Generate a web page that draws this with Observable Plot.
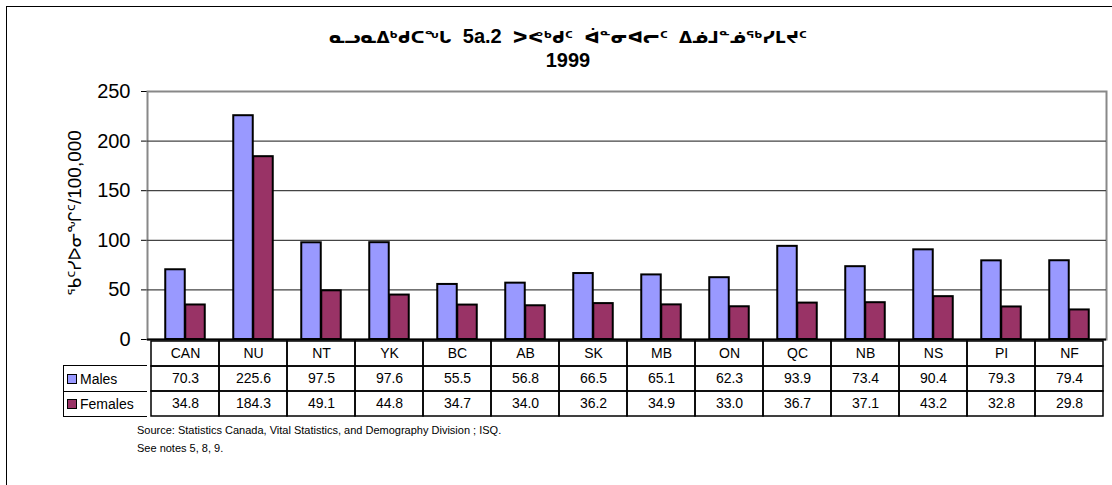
<!DOCTYPE html>
<html>
<head>
<meta charset="utf-8">
<script src="https://cdn.jsdelivr.net/npm/d3@7"></script>
<script src="https://cdn.jsdelivr.net/npm/@observablehq/plot@0.6"></script>
<style>
  html, body { margin: 0; padding: 0; background: #fff; }
  body { width: 1112px; height: 485px; overflow: hidden; font-family: "Liberation Sans", Arial, "DejaVu Sans", sans-serif; }
  #wrap { position: relative; width: 1112px; height: 485px; }
  #wrap > * { position: absolute; }
  #border { left: 6px; top: 6px; width: 1200px; height: 600px; border-left: 1.5px solid #000; border-top: 1.5px solid #000; }
  #title { left: 568px; top: 25px; transform: translateX(-50%); text-align: center; font-weight: bold; font-size: 20px; line-height: 23px; white-space: pre; color: #000; }
  #title .syl { font-family: "DejaVu Sans", sans-serif; font-weight: bold; font-size: 17px; }
  #ylabel { left: 75px; top: 213px; transform: translate(-50%, -50%) rotate(-90deg); font-size: 19px; white-space: nowrap; color: #000; }
  #ylabel .syl { font-family: "DejaVu Sans", sans-serif; font-weight: normal; font-size: 17px; }
  #legend { left: 63px; top: 365px; width: 84px; height: 52px; border: 1.5px solid #000; border-right: none; box-sizing: border-box; font-size: 14px; }
  #legend .row { height: 25px; display: flex; align-items: center; padding-left: 3px; box-sizing: border-box; }
  #legend .row + .row { border-top: 1.5px solid #000; }
  #legend .sw { width: 8px; height: 8px; border: 1.5px solid #000; margin-right: 3px; }
  #source { left: 137px; top: 421px; font-size: 11px; line-height: 18px; color: #000; white-space: nowrap; }
</style>
</head>
<body>
<div id="wrap">
  <div id="border"></div>
  <div id="title"></div>
  <div id="chart" style="left:0;top:0"></div>
  <div id="table" style="left:0;top:340px"></div>
  <div id="ylabel"></div>
  <div id="legend"></div>
  <div id="source"></div>
</div>
<script>
const titleLines = ["ᓇᓗᓇᐃᒃᑯᑕᖓ  5a.2  ᐳᕙᒃᑯᑦ  ᐋᓐᓂᐊᓕᑦ  ᐃᓅᒧᓐᓅᖅᓯᒪᔪᑦ", "1999"];
const yLabel = "ᖃᑦᓯᐅᓂᖏᑦ/100,000";
const categories = ["CAN","NU","NT","YK","BC","AB","SK","MB","ON","QC","NB","NS","PI","NF"];
const seriesNames = ["Males","Females"];
const males = [70.3,225.6,97.5,97.6,55.5,56.8,66.5,65.1,62.3,93.9,73.4,90.4,79.3,79.4];
const females = [34.8,184.3,49.1,44.8,34.7,34.0,36.2,34.9,33.0,36.7,37.1,43.2,32.8,29.8];
const seriesColors = ["#9999FF","#993366"];
const yTicks = [0,50,100,150,200,250];
const gridTicks = [50,100,150,200];
const sourceLines = ["Source: Statistics Canada, Vital Statistics, and Demography Division ; ISQ.", "See notes 5, 8, 9."];

const FONT = '"Liberation Sans", Arial, sans-serif';

// split text into syllabic / non-syllabic runs so they can be styled separately
function fillRuns(el, text) {
  const parts = text.split(/([\u1400-\u167F]+)/);
  parts.forEach(p => {
    if (!p) return;
    const s = document.createElement("span");
    if (/[\u1400-\u167F]/.test(p)) s.className = "syl";
    s.textContent = p;
    el.appendChild(s);
  });
}
const titleEl = document.getElementById("title");
titleLines.forEach(t => { const d = document.createElement("div"); fillRuns(d, t); titleEl.appendChild(d); });
fillRuns(document.getElementById("ylabel"), yLabel);
document.getElementById("source").innerHTML = sourceLines.map(t => `<div>${t}</div>`).join("");
document.getElementById("legend").innerHTML = seriesNames.map((s,i) =>
  `<div class="row"><div class="sw" style="background:${seriesColors[i]}"></div><span>${s}</span></div>`).join("");

const maleData = categories.map((c,i) => ({category: c, value: males[i]}));
const femaleData = categories.map((c,i) => ({category: c, value: females[i]}));

const chart = Plot.plot({
  width: 1112, height: 345,
  marginTop: 91, marginBottom: 6, marginLeft: 147, marginRight: 6,
  style: {fontFamily: FONT, color: "#000", background: "transparent", overflow: "visible"},
  x: {domain: categories, padding: 0, axis: null},
  y: {domain: [0, 250], ticks: yTicks, tickSize: 6, tickPadding: 11, line: true, label: null, fontSize: 20},
  marks: [
    Plot.frame({stroke: "#888", strokeWidth: 2}),
    Plot.ruleY(gridTicks, {stroke: "#444", strokeWidth: 1.2}),
    Plot.barY(maleData, {x: "category", y: "value", fill: seriesColors[0], stroke: "#000", strokeWidth: 2, insetLeft: 14.25, insetRight: 34.25}),
    Plot.barY(femaleData, {x: "category", y: "value", fill: seriesColors[1], stroke: "#000", strokeWidth: 2, insetLeft: 34.25, insetRight: 14.25}),
    Plot.ruleY([0], {stroke: "#000", strokeWidth: 2})
  ]
});
chart.querySelectorAll('[aria-label="y-axis tick label"] text, [aria-label="y-axis tick label"]').forEach(n => n.setAttribute("font-size", "20"));
document.getElementById("chart").appendChild(chart);

const rowKeys = ["category", ...seriesNames];
const cells = [];
categories.forEach((c,i) => {
  cells.push({category: c, row: "category", text: c});
  cells.push({category: c, row: "Males", text: males[i].toFixed(1)});
  cells.push({category: c, row: "Females", text: females[i].toFixed(1)});
});

const table = Plot.plot({
  width: 1112, height: 78,
  marginTop: 0, marginBottom: 1, marginLeft: 147, marginRight: 6,
  style: {fontFamily: FONT, color: "#000", background: "transparent", overflow: "visible"},
  x: {domain: categories, padding: 0, axis: null},
  y: {domain: rowKeys, padding: 0, axis: null},
  marks: [
    Plot.cell(cells, {x: "category", y: "row", fill: "none", stroke: "#000", strokeWidth: 1.5}),
    Plot.text(cells, {x: "category", y: "row", text: "text", fontSize: 14, fill: "#000"})
  ]
});
document.getElementById("table").appendChild(table);
</script>
</body>
</html>
